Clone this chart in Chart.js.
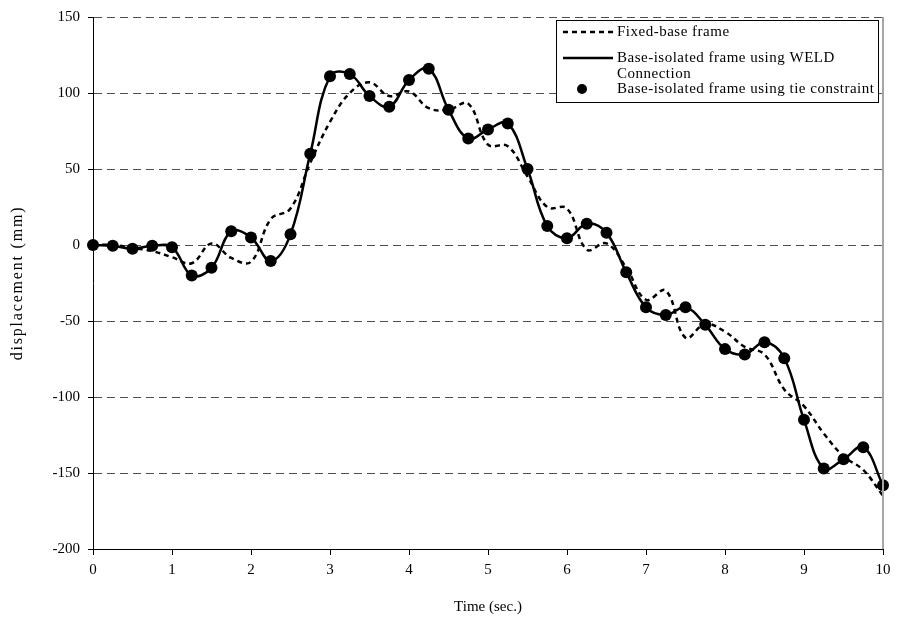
<!DOCTYPE html>
<html>
<head>
<meta charset="utf-8">
<script src="https://cdn.jsdelivr.net/npm/chart.js@4/dist/chart.umd.min.js"></script>
<style>
  html, body { margin: 0; padding: 0; background: #ffffff; }
  #wrap { width: 897px; height: 628px; }
</style>
</head>
<body>
<div id="wrap"><canvas id="chart" width="897" height="628"></canvas></div>
<script>
// time axis (sec.), one sample every 0.25 s
const timeSec = [
  0, 0.25, 0.5, 0.75, 1, 1.25, 1.5, 1.75, 2, 2.25,
  2.5, 2.75, 3, 3.25, 3.5, 3.75, 4, 4.25, 4.5, 4.75,
  5, 5.25, 5.5, 5.75, 6, 6.25, 6.5, 6.75, 7, 7.25,
  7.5, 7.75, 8, 8.25, 8.5, 8.75, 9, 9.25, 9.5, 9.75, 10
];

// displacement (mm)
const fixedBase = [
  0, 0, -2, -4, -8, -12, 1, -8.5, -11, 17,
  24, 54, 81, 100, 107, 98, 101, 90, 89, 93,
  66, 65, 45, 25, 24, -3, 1, -15, -36, -30,
  -61, -52, -57, -67, -72, -95, -106, -124, -139, -148, -165
];

const weldConn = [
  0, -0.5, -2.5, -0.5, -1.5, -20, -15, 9, 5, -10.5,
  7, 60, 111, 112.5, 98, 91, 108.5, 116, 89, 70,
  76, 80, 50, 12.5, 4.5, 14, 8, -18, -41, -46,
  -41, -52.5, -68.5, -72, -64, -74.5, -115, -147, -141, -133, -158
];

// tie constraint markers sit on the same curve
const tieConstraint = weldConn.slice();

const xTicks = [0, 1, 2, 3, 4, 5, 6, 7, 8, 9, 10];
const yTicks = [150, 100, 50, 0, -50, -100, -150, -200];

const yTitle = "displacement (mm)";
const legendLabels = [
  ["Fixed-base frame"],
  ["Base-isolated frame using WELD", "Connection"],
  ["Base-isolated frame using tie constraint"]
];

const serif = "'Liberation Serif', 'Times New Roman', serif";

function toPoints(ys) {
  return timeSec.map((t, i) => ({ x: t, y: ys[i] }));
}

// right border line, y title and boxed legend, like the Excel original
const frameAndLegend = {
  id: "frameAndLegend",
  afterDraw(chart) {
    const ctx = chart.ctx;
    const area = chart.chartArea;
    ctx.save();
    ctx.strokeStyle = "#a6a6a6";
    ctx.lineWidth = 2;
    ctx.beginPath();
    ctx.moveTo(area.right, area.top);
    ctx.lineTo(area.right, area.bottom);
    ctx.stroke();

    // y axis title (spaced out a little, as in the source)
    ctx.save();
    ctx.translate(18, (area.top + area.bottom) / 2);
    ctx.rotate(-Math.PI / 2);
    ctx.font = "16px " + serif;
    ctx.letterSpacing = "1.8px";
    ctx.fillStyle = "#000000";
    ctx.textAlign = "center";
    ctx.textBaseline = "middle";
    ctx.fillText(yTitle, 0, 0);
    ctx.restore();

    // legend box
    const bx = 556, by = 20, bw = 322, bh = 82;
    ctx.fillStyle = "#ffffff";
    ctx.fillRect(bx, by, bw, bh);
    ctx.strokeStyle = "#000000";
    ctx.lineWidth = 1;
    ctx.strokeRect(bx + 0.5, by + 0.5, bw, bh);

    const sx1 = 563, sx2 = 613, tx = 617;
    ctx.font = "15px " + serif;
    ctx.letterSpacing = "0.5px";
    ctx.fillStyle = "#000000";
    ctx.textBaseline = "middle";
    ctx.textAlign = "left";

    // dashed sample
    ctx.lineWidth = 2.5;
    ctx.setLineDash([5, 4]);
    ctx.beginPath();
    ctx.moveTo(sx1, 32);
    ctx.lineTo(sx2, 32);
    ctx.stroke();
    ctx.setLineDash([]);
    ctx.fillText(legendLabels[0][0], tx, 32);

    // solid sample
    ctx.beginPath();
    ctx.moveTo(sx1, 58);
    ctx.lineTo(sx2, 58);
    ctx.stroke();
    ctx.fillText(legendLabels[1][0], tx, 58);
    ctx.fillText(legendLabels[1][1], tx, 74);

    // marker sample
    ctx.beginPath();
    ctx.arc(582, 89, 5, 0, Math.PI * 2);
    ctx.fill();
    ctx.fillText(legendLabels[2][0], tx, 89);
    ctx.restore();
  }
};

const ctx = document.getElementById("chart").getContext("2d");
new Chart(ctx, {
  type: "line",
  data: {
    datasets: [
      {
        label: "Base-isolated frame using tie constraint",
        data: toPoints(tieConstraint),
        showLine: false,
        pointRadius: 6,
        pointBackgroundColor: "#000000",
        pointBorderWidth: 0,
        clip: false,
        order: 0
      },
      {
        label: "Base-isolated frame using WELD Connection",
        data: toPoints(weldConn),
        borderColor: "#000000",
        borderWidth: 2.5,
        tension: 0.4,
        pointRadius: 0,
        fill: false,
        order: 1
      },
      {
        label: "Fixed-base frame",
        data: toPoints(fixedBase),
        borderColor: "#000000",
        borderWidth: 2.5,
        borderDash: [5, 4],
        tension: 0.4,
        pointRadius: 0,
        fill: false,
        order: 2
      }
    ]
  },
  options: {
    responsive: false,
    animation: false,
    layout: { padding: { left: 0, right: 14, top: 17, bottom: 0 } },
    plugins: {
      legend: { display: false },
      tooltip: { enabled: false }
    },
    scales: {
      x: {
        type: "linear",
        min: 0,
        max: 10,
        afterFit(scale) { scale.height = 79; },
        afterBuildTicks(scale) { scale.ticks = xTicks.map(v => ({ value: v })); },
        ticks: {
          color: "#000000",
          padding: 6,
          font: { family: serif, size: 15 }
        },
        grid: {
          drawOnChartArea: false,
          drawTicks: true,
          tickLength: 6,
          tickColor: "#000000",
          tickWidth: 1
        },
        border: { display: true, color: "#000000", width: 1 },
        title: {
          display: true,
          text: "Time (sec.)",
          color: "#000000",
          padding: { top: 0, bottom: 12 },
          font: { family: serif, size: 15 }
        }
      },
      y: {
        type: "linear",
        min: -200,
        max: 150,
        afterFit(scale) { scale.width = 93; },
        afterBuildTicks(scale) { scale.ticks = yTicks.map(v => ({ value: v })); },
        ticks: {
          color: "#000000",
          padding: 8,
          font: { family: serif, size: 15 }
        },
        grid: {
          color: "#4d4d4d",
          lineWidth: 1,
          drawTicks: true,
          tickLength: 5,
          tickColor: "#000000",
          tickBorderDash: []
        },
        border: { display: true, color: "#000000", width: 1, dash: [8, 5] },
        title: { display: false }
      }
    }
  },
  plugins: [frameAndLegend]
});
</script>
</body>
</html>
